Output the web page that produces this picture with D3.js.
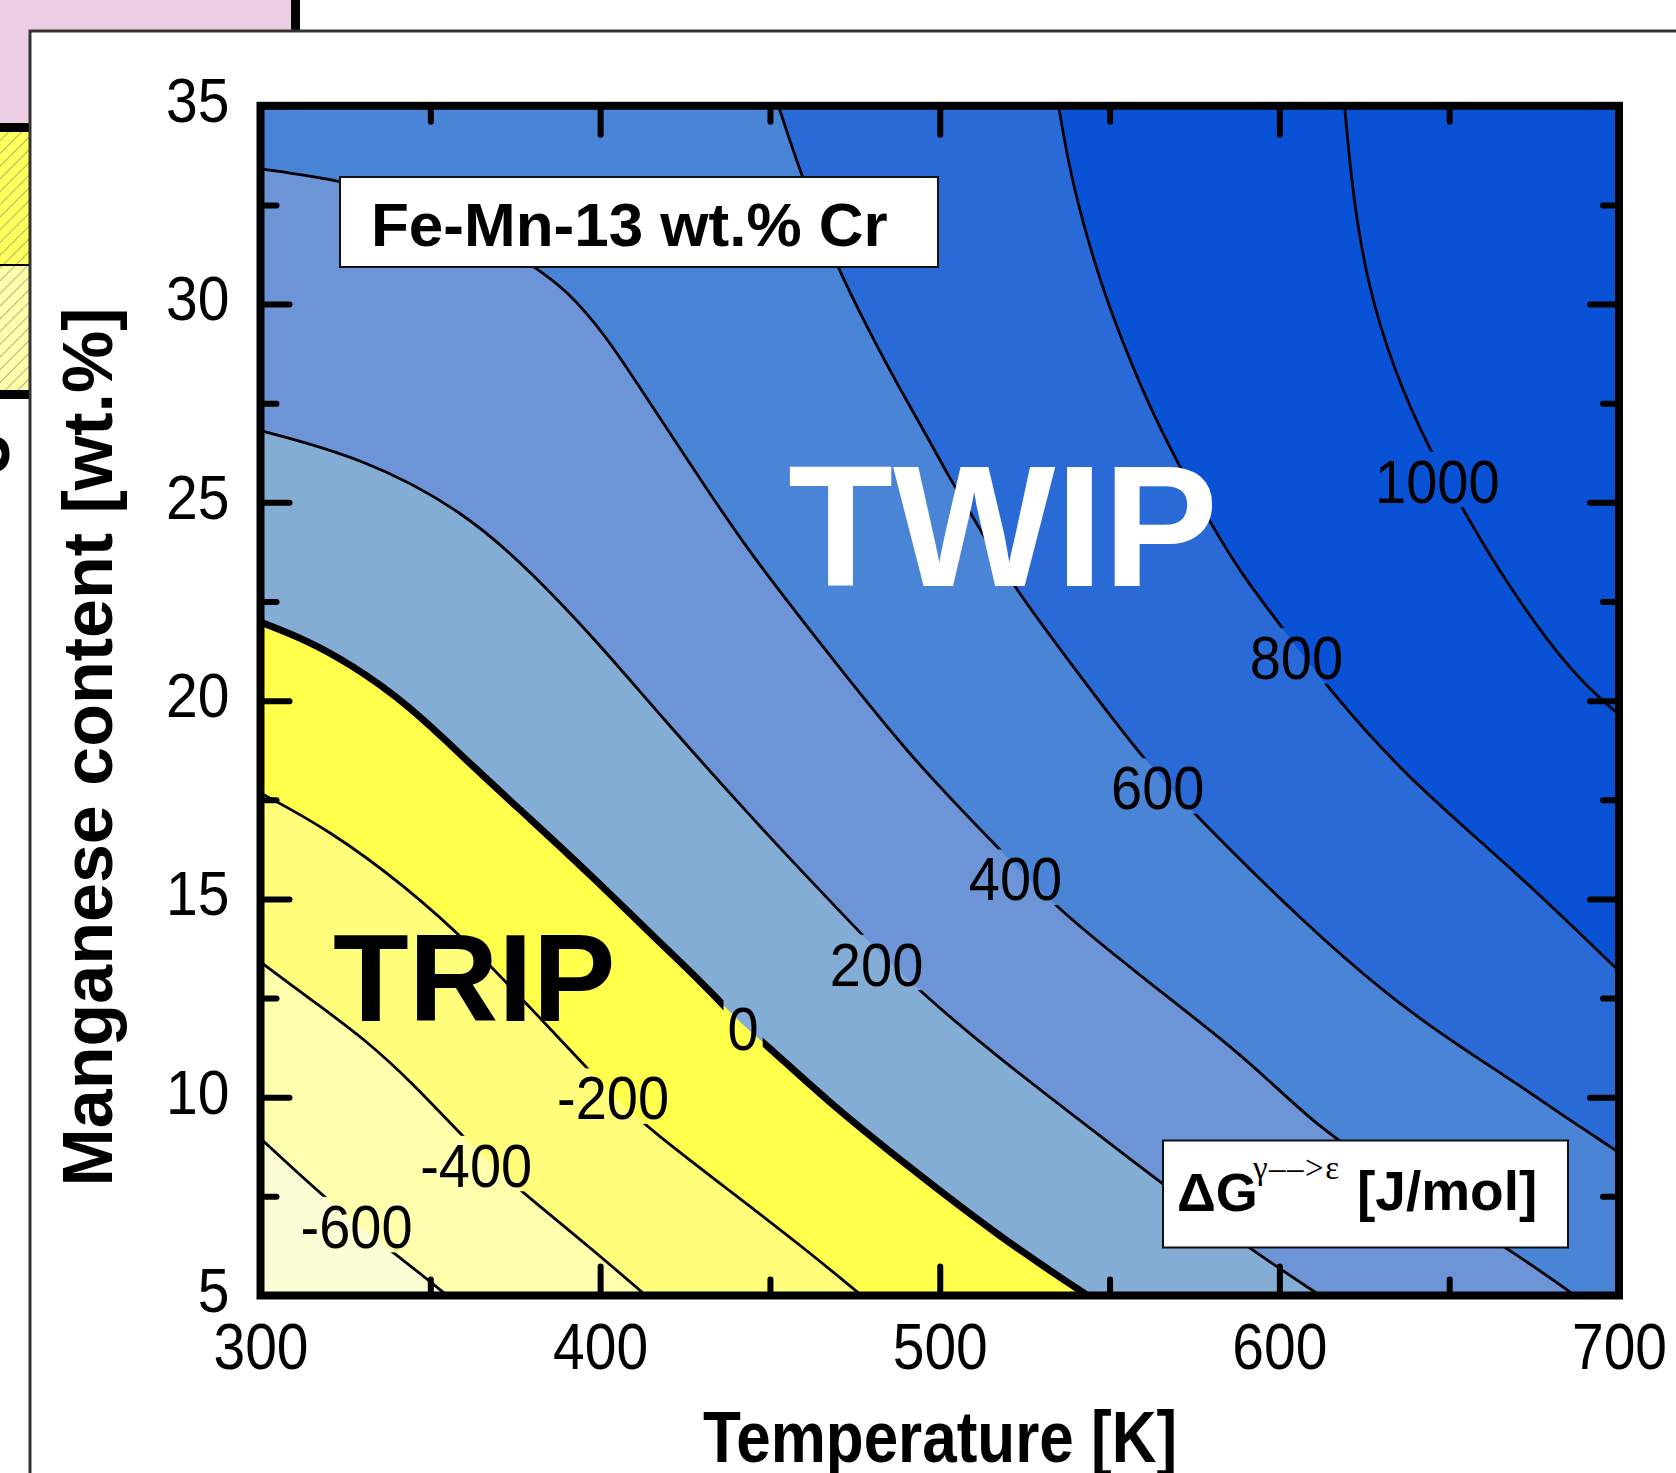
<!DOCTYPE html>
<html lang="en">
<head>
<meta charset="UTF-8">
<title>Fe-Mn-13 wt.% Cr - stacking fault energy map</title>
<script src="https://d3js.org/d3.v7.min.js"></script>
<style>
  body { margin: 0; padding: 0; background: #fff; }
  svg { display: block; font-family: "Liberation Sans", Arial, sans-serif; }
</style>
</head>
<body>
<svg id="chart" width="1676" height="1473"></svg>
<script>
// contour levels (J/mol) and the colour of the band lying above each level
const levels = [-600, -400, -200, 0, 200, 400, 600, 800, 1000];
const bandColors = ["#fdfdd5", "#ffffae", "#ffff7c", "#ffff4c", "#84add5", "#6c94d7", "#4a84d6", "#2a6ad6", "#0a52d5", "#0a52d5"];

// contour lines, [temperature K, Mn wt.%]
const contourM600 = [[300, 8.96], [314, 7.85], [328, 6.8], [342, 5.9], [355, 5]];
const contourM400 = [[300, 13.41], [315, 12.45], [331, 11.45], [346, 10.25], [358, 9.15], [368, 8.3], [379, 7.47], [398, 6.14], [413.5, 5]];
const contourM200 = [[300, 17.67], [320, 16.75], [343, 15.3], [363, 13.75], [380, 12.2], [395, 10.85], [404, 10.0], [416, 9.1], [438, 7.65], [460, 6.2], [477, 5]];
const contour0 = [[300, 21.98], [313, 21.55], [326, 20.95], [343, 19.95], [363, 18.3], [379, 17.05], [398.5, 15.5], [414.5, 14.15], [430.5, 12.85], [442, 11.8], [448, 11.4], [466.5, 9.93], [490, 8.3], [518, 6.45], [543.5, 5]];
const contour200 = [[300, 26.81], [330, 26.13], [360, 24.78], [381, 23.14], [400, 21.4], [418, 19.6], [444.5, 17.05], [466, 15.1], [482, 13.65], [497, 12.45], [518, 10.95], [543, 9.3], [565, 7.85], [590, 6.25], [612, 5]];
const contour400 = [[300, 33.41], [322.8, 33.13], [340, 32.75], [356, 32.2], [369, 31.6], [381.3, 30.9], [390, 30.36], [401.3, 29.26], [414.1, 27.58], [428.4, 25.73], [442.7, 23.88], [464, 21.53], [491.2, 18.58], [516.2, 16.38], [535.2, 14.69], [560.8, 12.95], [587, 11.2], [599, 10.25], [608, 9.55], [616.5, 8.95], [640, 7.6], [667, 6.22], [687, 5]];
const contour600 = [[452.5, 35], [459, 33.3], [469.7, 30.9], [482.6, 28.76], [490, 27.6], [497, 26.55], [503, 25.6], [510, 24.6], [521.4, 22.9], [538.5, 20.95], [559.5, 18.55], [576.6, 17.0], [606.5, 14.45], [638, 12.1], [670, 10.35], [682, 9.62], [694, 8.95], [700, 8.6]];
const contour800 = [[535, 35], [538.8, 33.06], [547.1, 30.58], [553.5, 29.12], [561, 27.55], [570, 26.0], [579.5, 24.5], [589.1, 23.16], [600, 21.93], [614.6, 20.28], [637.5, 18.05], [669.9, 15.67], [700, 13.18]];
const contour1000 = [[619.2, 35], [621.6, 32.72], [626, 30.47], [633.7, 28.33], [643.9, 26.36], [654.7, 24.73], [666.2, 23.04], [685.9, 20.68], [700, 19.65]];
const contours = [contourM600, contourM400, contourM200, contour0, contour200, contour400, contour600, contour800, contour1000];

// in-line contour labels
const labelText = ["-600", "-400", "-200", "0", "200", "400", "600", "800", "1000"];
const labelT = [328.3, 363.5, 403.8, 442.1, 481.4, 522.3, 564.2, 605.0, 646.5];
const labelMn = [6.75, 8.29, 9.99, 11.74, 13.36, 15.51, 17.81, 21.09, 25.54];

// axes
const xMajor = [300, 400, 500, 600, 700];
const xMinor = [350, 450, 550, 650];
const yMajor = [5, 10, 15, 20, 25, 30, 35];
const yMinor = [7.5, 12.5, 17.5, 22.5, 27.5, 32.5];

const svg = d3.select("#chart");
const x = d3.scaleLinear().domain([300, 700]).range([260.5, 1619]);
const y = d3.scaleLinear().domain([5, 35]).range([1295.5, 105.8]);
const defs = svg.append("defs");

// ---- surrounding bits of the larger figure ----
svg.append("rect").attr("x", 0).attr("y", 0).attr("width", 291).attr("height", 30).attr("fill", "#edcee5");
svg.append("rect").attr("x", 0).attr("y", 0).attr("width", 29).attr("height", 123).attr("fill", "#edcee5");
svg.append("rect").attr("x", 291).attr("y", 0).attr("width", 9).attr("height", 31).attr("fill", "#000");

const hatch = defs.append("pattern").attr("id", "hatch")
    .attr("patternUnits", "userSpaceOnUse").attr("width", 9).attr("height", 9)
    .attr("patternTransform", "rotate(45)");
hatch.append("line").attr("x1", 0).attr("y1", 0).attr("x2", 0).attr("y2", 9)
    .attr("stroke", "#8a8a7a").attr("stroke-width", 1.3);

svg.append("rect").attr("x", 0).attr("y", 131).attr("width", 29).attr("height", 134).attr("fill", "#ffff5c");
svg.append("rect").attr("x", 0).attr("y", 265).attr("width", 29).attr("height", 125).attr("fill", "#ffffaa");
svg.append("rect").attr("x", 0).attr("y", 131).attr("width", 29).attr("height", 259).attr("fill", "url(#hatch)");
svg.append("rect").attr("x", 0).attr("y", 123).attr("width", 29).attr("height", 9).attr("fill", "#000");
svg.append("line").attr("x1", 0).attr("x2", 29).attr("y1", 265).attr("y2", 265).attr("stroke", "#000").attr("stroke-width", 2);
svg.append("rect").attr("x", 0).attr("y", 390).attr("width", 29).attr("height", 9).attr("fill", "#000");
svg.append("text").attr("transform", "translate(9,454) rotate(-90)")
    .attr("text-anchor", "middle").attr("font-weight", "bold").attr("font-size", 70).text("3");

svg.append("path").attr("d", "M30,1473V31H1676")
    .attr("fill", "none").attr("stroke", "#333").attr("stroke-width", 3);

// ---- filled bands ----
defs.append("clipPath").attr("id", "plotClip").append("rect")
    .attr("x", x(300)).attr("y", y(35)).attr("width", x(700) - x(300)).attr("height", y(5) - y(35));

const curve = d3.line().x(d => x(d[0])).y(d => y(d[1])).curve(d3.curveBasis);

function edgeOf(p) {
    if (p[1] <= 5) return "bottom";
    if (p[0] >= 700) return "right";
    if (p[1] >= 35) return "top";
    return "left";
}
const edgeOrder = ["bottom", "right", "top", "left"];
const cornerAfter = { bottom: [700, 5], right: [700, 35], top: [300, 35], left: [300, 5] };

function bandPath(pts) {
    let e = edgeOf(pts[pts.length - 1]);
    const s = edgeOf(pts[0]);
    let d = curve(pts);
    while (e !== s) {
        const c = cornerAfter[e];
        d += "L" + x(c[0]) + "," + y(c[1]);
        e = edgeOrder[(edgeOrder.indexOf(e) + 1) % 4];
    }
    return d + "Z";
}

const plot = svg.append("g").attr("clip-path", "url(#plotClip)");
plot.append("rect")
    .attr("x", x(300)).attr("y", y(35)).attr("width", x(700) - x(300)).attr("height", y(5) - y(35))
    .attr("fill", bandColors[0]);
plot.selectAll("path.band")
    .data(contours)
    .join("path")
    .attr("class", "band")
    .attr("d", d => bandPath(d))
    .attr("fill", (d, i) => bandColors[i + 1]);

// ---- contour labels (drawn first so the lines can be broken around them) ----
const labelG = svg.append("g");
const labels = labelG.selectAll("text")
    .data(labelText)
    .join("text")
    .attr("transform", (d, i) => `translate(${x(labelT[i])},${y(labelMn[i])}) scale(1,1.08)`)
    .attr("text-anchor", "middle")
    .attr("dy", "0.36em")
    .attr("font-size", 56)
    .attr("fill", "#000")
    .text(d => d);

const mask = defs.append("mask").attr("id", "labelGap").attr("maskUnits", "userSpaceOnUse")
    .attr("x", 0).attr("y", 0).attr("width", 1676).attr("height", 1473);
mask.append("rect").attr("x", 0).attr("y", 0).attr("width", 1676).attr("height", 1473).attr("fill", "#fff");
labels.each(function (d, i) {
    const b = this.getBBox();
    const cx = x(labelT[i]), cy = y(labelMn[i]);
    mask.append("rect")
        .attr("x", cx + b.x - 4).attr("y", cy + b.y * 1.08 + 4)
        .attr("width", b.width + 8).attr("height", b.height * 1.08 - 12)
        .attr("fill", "#000");
});

plot.append("g").attr("mask", "url(#labelGap)")
    .selectAll("path.contour")
    .data(contours)
    .join("path")
    .attr("class", "contour")
    .attr("d", d => curve(d))
    .attr("fill", "none")
    .attr("stroke", "#000")
    .attr("stroke-linejoin", "round")
    .attr("stroke-width", (d, i) => levels[i] === 0 ? 7 : 2.8);

labelG.raise();

// ---- region names and boxes ----
svg.append("text").attr("x", 788).attr("y", 586)
    .attr("font-size", 172).attr("font-weight", "bold").attr("fill", "#fff").text("TWIP");
svg.append("text").attr("x", 333).attr("y", 1021)
    .attr("font-size", 124).attr("font-weight", "bold").attr("fill", "#000").text("TRIP");

svg.append("rect").attr("x", 340).attr("y", 177).attr("width", 598).attr("height", 90)
    .attr("fill", "#fff").attr("stroke", "#111").attr("stroke-width", 2);
svg.append("text").attr("x", 371).attr("y", 246)
    .attr("font-size", 62).attr("font-weight", "bold").text("Fe-Mn-13 wt.% Cr");

svg.append("rect").attr("x", 1163).attr("y", 1140.5).attr("width", 405).attr("height", 107)
    .attr("fill", "#fff").attr("stroke", "#111").attr("stroke-width", 2);
svg.append("text").attr("x", 1177).attr("y", 1211)
    .attr("font-size", 54).attr("font-weight", "bold").text("\u0394G");
svg.append("text").attr("x", 1253).attr("y", 1179)
    .attr("font-size", 33).attr("letter-spacing", 1.5)
    .attr("font-family", "'Liberation Serif', 'DejaVu Serif', serif").text("\u03b3\u2013\u2013>\u03b5");
svg.append("text").attr("x", 1357).attr("y", 1210)
    .attr("font-size", 55).attr("font-weight", "bold").text("[J/mol]");

// ---- frame, ticks and axis labels ----
svg.append("rect")
    .attr("x", x(300)).attr("y", y(35)).attr("width", x(700) - x(300)).attr("height", y(5) - y(35))
    .attr("fill", "none").attr("stroke", "#000").attr("stroke-width", 8);

function tickAxis(axis, tx, ty) {
    const g = svg.append("g").attr("transform", `translate(${tx},${ty})`).call(axis);
    g.select(".domain").remove();
    g.selectAll(".tick line").attr("stroke", "#000").attr("stroke-width", 6).attr("stroke-linecap", "round");
    return g;
}
const noLabel = () => "";
tickAxis(d3.axisTop(x).tickValues(xMajor).tickSizeInner(-29).tickSizeOuter(0).tickFormat(noLabel), 0, y(35));
tickAxis(d3.axisTop(x).tickValues(xMinor).tickSizeInner(-16).tickSizeOuter(0).tickFormat(noLabel), 0, y(35));
tickAxis(d3.axisBottom(x).tickValues(xMinor).tickSizeInner(-16).tickSizeOuter(0).tickFormat(noLabel), 0, y(5));
tickAxis(d3.axisLeft(y).tickValues(yMinor).tickSizeInner(-16).tickSizeOuter(0).tickFormat(noLabel), x(300), 0);
tickAxis(d3.axisRight(y).tickValues(yMajor).tickSizeInner(-29).tickSizeOuter(0).tickFormat(noLabel), x(700), 0);
tickAxis(d3.axisRight(y).tickValues(yMinor).tickSizeInner(-16).tickSizeOuter(0).tickFormat(noLabel), x(700), 0);

const xAxisG = tickAxis(d3.axisBottom(x).tickValues(xMajor).tickSizeInner(-29).tickSizeOuter(0), 0, y(5));
xAxisG.selectAll(".tick text")
    .attr("y", null).attr("dy", null)
    .attr("transform", "translate(0,73) scale(1,1.15)")
    .attr("font-size", 57).attr("font-family", "'Liberation Sans', Arial, sans-serif").attr("fill", "#000");

const yAxisG = tickAxis(d3.axisLeft(y).tickValues(yMajor).tickSizeInner(-29).tickSizeOuter(0), x(300), 0);
yAxisG.selectAll(".tick text")
    .attr("x", null).attr("dy", "0.3em")
    .attr("transform", "translate(-31,-3) scale(1,1.1)")
    .attr("font-size", 57).attr("font-family", "'Liberation Sans', Arial, sans-serif").attr("fill", "#000");

svg.append("text").attr("transform", "translate(940,1462) scale(1,1.17)")
    .attr("text-anchor", "middle").attr("font-size", 62).attr("font-weight", "bold")
    .text("Temperature [K]");
svg.append("text").attr("transform", "translate(112,747) rotate(-90)")
    .attr("text-anchor", "middle").attr("font-size", 70).attr("font-weight", "bold")
    .text("Manganese content [wt.%]");
</script>
</body>
</html>
